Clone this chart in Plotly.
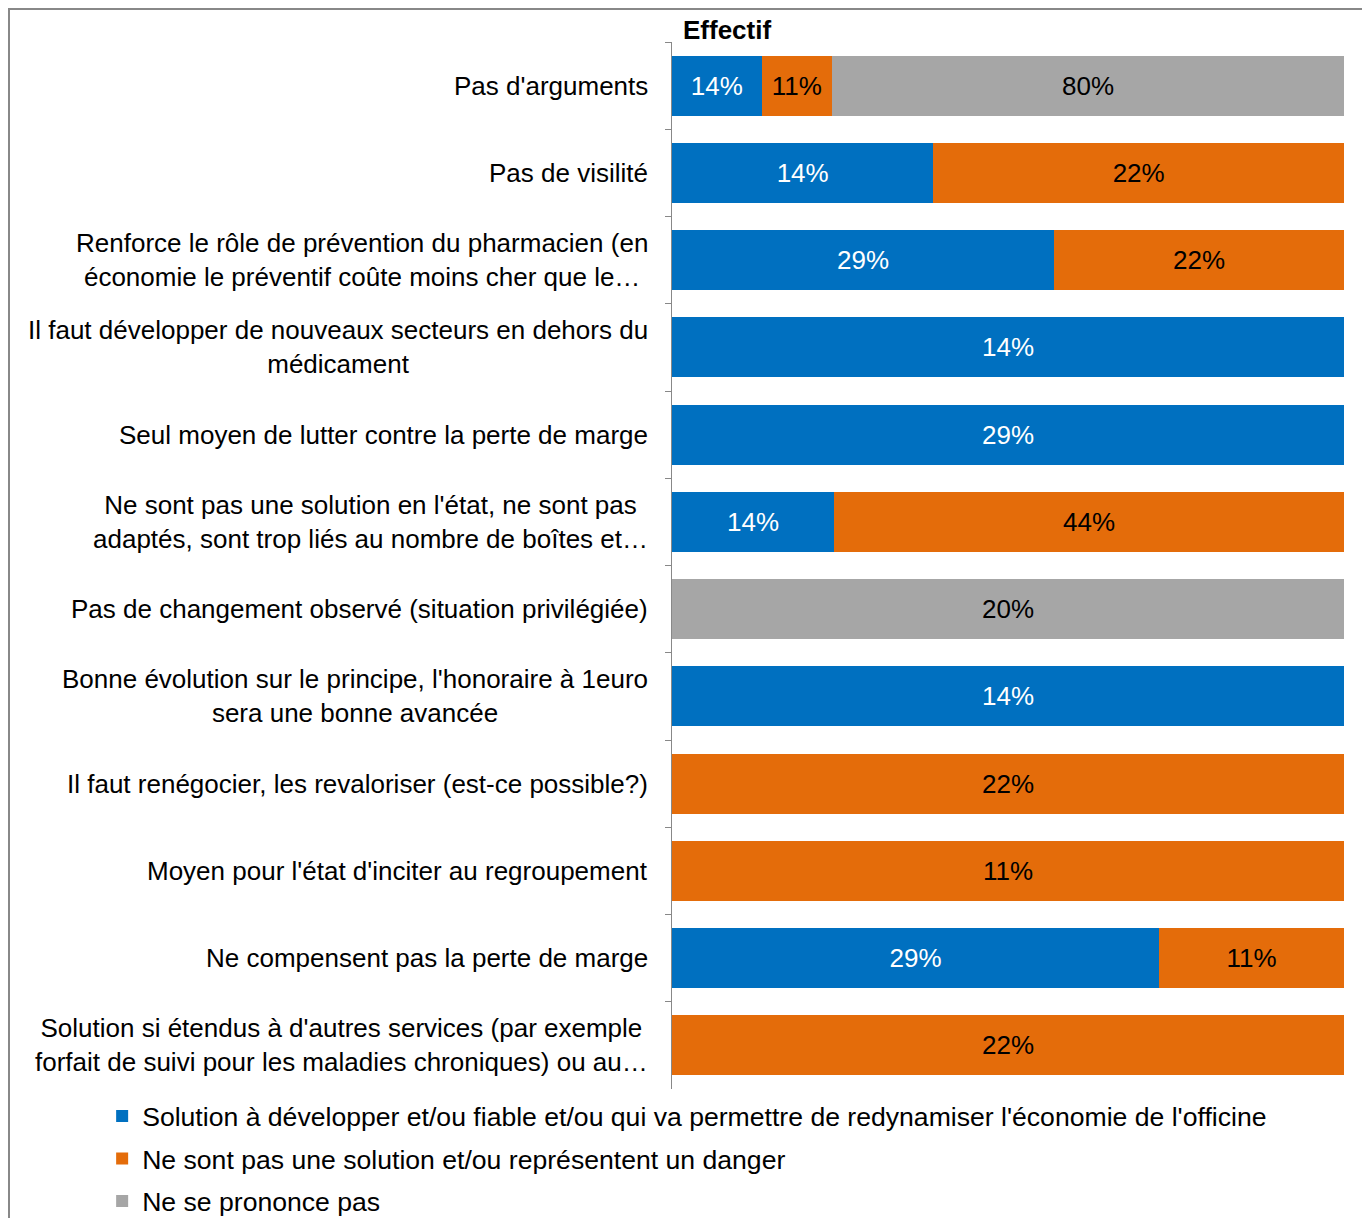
import plotly.graph_objects as go

categories = [
    "Pas d'arguments",
    "Pas de visilité",
    "Renforce le rôle de prévention du pharmacien (en<br>économie le préventif coûte moins cher que le…",
    "Il faut développer de nouveaux secteurs en dehors du<br>médicament",
    "Seul moyen de lutter contre la perte de marge",
    "Ne sont pas une solution en l'état, ne sont pas<br>adaptés, sont trop liés au nombre de boîtes et…",
    "Pas de changement observé (situation privilégiée)",
    "Bonne évolution sur le principe, l'honoraire à 1euro<br>sera une bonne avancée",
    "Il faut renégocier, les revaloriser (est-ce possible?)",
    "Moyen pour l'état d'inciter au regroupement",
    "Ne compensent pas la perte de marge",
    "Solution si étendus à d'autres services (par exemple<br>forfait de suivi pour les maladies chroniques) ou au…",
]

series_names = [
    "Solution à développer et/ou fiable et/ou qui va permettre de redynamiser l'économie de l'officine",
    "Ne sont pas une solution et/ou représentent un danger",
    "Ne se prononce pas",
]

solution = [14, 14, 29, 14, 29, 14, None, 14, None, None, 29, None]
danger = [11, 22, 22, None, None, 44, None, None, 22, 11, 11, 22]
sans_avis = [80, None, None, None, None, None, 20, None, None, None, None, None]

colors = ["#0070C0", "#E46C0A", "#A6A6A6"]
text_colors = ["white", "black", "black"]

FONT = "Liberation Sans, Arial, sans-serif"
FS = 26

fig = go.Figure()
for i, (name, vals) in enumerate(zip(series_names, [solution, danger, sans_avis])):
    fig.add_trace(
        go.Bar(
            y=categories,
            x=vals,
            name=name,
            orientation="h",
            marker_color=colors[i],
            marker_line_width=0,
            text=[f"{v}%" if v is not None else "" for v in vals],
            texttemplate="%{text}",
            textposition="inside",
            insidetextanchor="middle",
            textangle=0,
            textfont=dict(size=FS, color=text_colors[i], family=FONT),
            legendgroup=f"g{i}",
            hoverinfo="skip",
        )
    )

# category labels, centred lines like the original
for cat in categories:
    fig.add_annotation(
        x=0, xref="paper", y=cat, yref="y",
        text=cat, showarrow=False,
        xanchor="right", xshift=-22, align="center",
        font=dict(size=FS, color="black", family=FONT),
    )

fig.add_annotation(
    x=0, xref="paper", y=1, yref="paper",
    text="<b>Effectif</b>", showarrow=False,
    xanchor="left", yanchor="bottom", xshift=9, yshift=-5,
    font=dict(size=FS, color="black", family=FONT),
)

# outer frame
fig.add_shape(
    type="rect", xref="paper", yref="paper",
    x0=-0.9866, x1=1.0327, y0=-0.3, y1=1.0315,
    line=dict(color="#888888", width=2),
)

fig.update_xaxes(visible=False, range=[0, 100])
fig.update_yaxes(
    autorange="reversed",
    showticklabels=False,
    showline=True, linecolor="#888888", linewidth=1,
    ticks="outside", tickson="boundaries", ticklen=6, tickcolor="#888888",
    showgrid=False,
)
fig.update_layout(
    barmode="stack",
    barnorm="percent",
    bargap=0.31,
    width=1362,
    height=1240,
    margin=dict(l=664, r=26, t=34, b=159),
    paper_bgcolor="white",
    plot_bgcolor="white",
    font=dict(family=FONT, size=FS, color="black"),
    showlegend=True,
    legend=dict(
        orientation="v",
        x=-0.848, xanchor="left",
        y=-0.003, yanchor="top",
        traceorder="grouped",
        tracegroupgap=5,
        font=dict(size=26.6, family=FONT),
        bgcolor="rgba(0,0,0,0)",
    ),
)

fig.write_html("out.html")
